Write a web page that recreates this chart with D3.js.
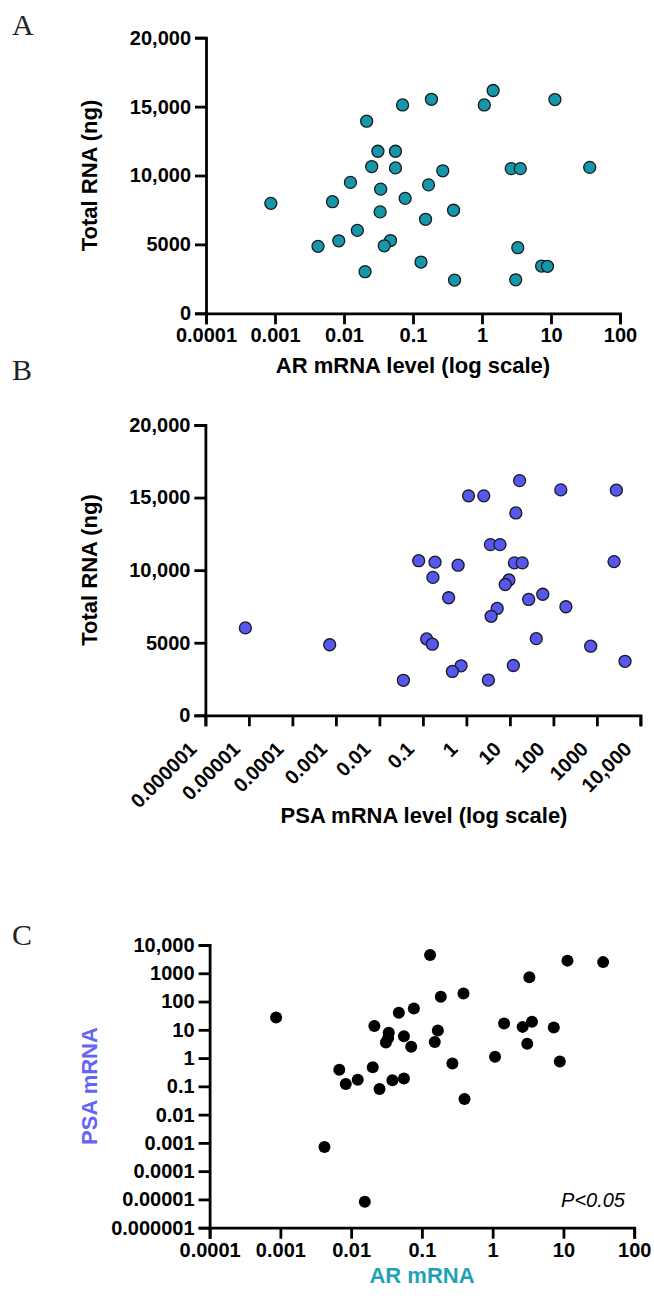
<!DOCTYPE html>
<html>
<head>
<meta charset="utf-8">
<script src="https://cdn.jsdelivr.net/npm/d3@7"></script>
<style>
  html, body { margin: 0; padding: 0; background: #fff; }
  svg { display: block; }
  .axis path, .axis line { stroke: #000; stroke-width: 2.8; }
  .axis text { font-family: "Liberation Sans", Arial, sans-serif; font-weight: bold; font-size: 20px; fill: #000; }
  .title { font-family: "Liberation Sans", Arial, sans-serif; font-weight: bold; font-size: 22px; }
  .panel { font-family: "Liberation Serif", "DejaVu Serif", serif; font-size: 30px; fill: #222; }
</style>
</head>
<body>
<script>
// ---- data (one entry per sample) ----
const arLevel  = [1.45, 0.185, 11.4, 0.0706, 1.08, 0.0213, 0.031, 0.0557, 0.0252, 36.4, 0.0557, 2.65, 3.59, 0.27, 0.0124, 0.168, 0.034, 0.077, 0.0068, 0.00087, 0.387, 0.0334, 0.152, 0.0156, 0.0472, 0.0084, 0.0383, 0.0042, 3.3, 0.1305, 7.31, 8.89, 0.0202, 3.08, 0.40];
const psaLevel = [16.7, 148, 2800, 2.51, 1.12, 13.7, 3.57, 5.93, 0.08, 2480, 0.19, 12.7, 19.2, 0.645, 0.17, 9.5, 7.8, 57, 0.39, 27, 194, 5.1, 3.7, 0.0000083, 40.4, 0.122, 0.165, 0.00072, 720, 4430, 12.0, 0.755, 0.476, 3.2, 0.0356];
const totalRNA = [16170, 15530, 15510, 15120, 15120, 13940, 11760, 11760, 10650, 10590, 10550, 10500, 10500, 10340, 9500, 9320, 9010, 8340, 8100, 7980, 7480, 7360, 6820, 6020, 5280, 5260, 4900, 4860, 4760, 3720, 3430, 3410, 3020, 2430, 2410];

// ---- ticks ----
const rnaTicks = [0, 5000, 10000, 15000, 20000];
const rnaTickLabels = ["0", "5000", "10,000", "15,000", "20,000"];
const arTicks = [0.0001, 0.001, 0.01, 0.1, 1, 10, 100];
const arTickLabels = ["0.0001", "0.001", "0.01", "0.1", "1", "10", "100"];
const psaTicks = [1e-6, 1e-5, 1e-4, 1e-3, 0.01, 0.1, 1, 10, 100, 1000, 10000];
const psaTickLabels = ["0.000001", "0.00001", "0.0001", "0.001", "0.01", "0.1", "1", "10", "100", "1000", "10,000"];

const samples = arLevel.map((a, i) => ({ ar: a, psa: psaLevel[i], rna: totalRNA[i] }));

const W = 654, H = 1300;
const svg = d3.select("body").append("svg").attr("width", W).attr("height", H);

function fmt(ticks, labels) { return d => labels[ticks.indexOf(d)]; }

function yAxisRNA(g, y) {
  g.attr("class", "axis")
    .call(d3.axisLeft(y).tickValues(rnaTicks).tickFormat(fmt(rnaTicks, rnaTickLabels)).tickSizeOuter(0).tickSize(11).tickPadding(4));
}

// ===== Panel A =====
{
  const x = d3.scaleLog().domain([0.0001, 100]).range([206, 620]);
  const y = d3.scaleLinear().domain([0, 20000]).range([313.3, 37.7]);
  svg.append("g").attr("transform", "translate(0,313.3)").attr("class", "axis")
    .call(d3.axisBottom(x).tickValues(arTicks).tickFormat(fmt(arTicks, arTickLabels)).tickSizeOuter(0).tickSize(11).tickPadding(4));
  svg.append("g").attr("transform", "translate(206,0)").call(yAxisRNA, y);
  svg.append("g").selectAll("circle").data(samples).join("circle")
    .attr("cx", d => x(d.ar)).attr("cy", d => y(d.rna)).attr("r", 6)
    .attr("fill", "#1497ab").attr("stroke", "#1a1a1a").attr("stroke-width", 1.3);
  svg.append("text").attr("class", "title").attr("text-anchor", "middle")
    .attr("transform", "translate(97,175.5) rotate(-90)").text("Total RNA (ng)");
  svg.append("text").attr("class", "title").attr("text-anchor", "middle")
    .attr("x", 413).attr("y", 373).text("AR mRNA level (log scale)");
  svg.append("text").attr("class", "panel").attr("x", 12).attr("y", 35).text("A");
}

// ===== Panel B =====
{
  const x = d3.scaleLog().domain([1e-6, 1e4]).range([205.4, 640.4]);
  const y = d3.scaleLinear().domain([0, 20000]).range([715.3, 425]);
  const gx = svg.append("g").attr("transform", "translate(0,715.3)").attr("class", "axis")
    .call(d3.axisBottom(x).tickValues(psaTicks).tickFormat(fmt(psaTicks, psaTickLabels)).tickSizeOuter(0).tickSize(11).tickPadding(4));
  gx.selectAll("text").attr("text-anchor", "end").attr("x", 0).attr("y", 0).attr("dy", 0)
    .attr("transform", "translate(-8,35) rotate(-45)");
  svg.append("g").attr("transform", "translate(205.4,0)").call(yAxisRNA, y);
  svg.append("g").selectAll("circle").data(samples).join("circle")
    .attr("cx", d => x(d.psa)).attr("cy", d => y(d.rna)).attr("r", 6)
    .attr("fill", "#5656f0").attr("stroke", "#1a1a1a").attr("stroke-width", 1.3);
  svg.append("text").attr("class", "title").attr("text-anchor", "middle")
    .attr("transform", "translate(97,570) rotate(-90)").text("Total RNA (ng)");
  svg.append("text").attr("class", "title").attr("text-anchor", "middle")
    .attr("x", 424).attr("y", 823).text("PSA mRNA level (log scale)");
  svg.append("text").attr("class", "panel").attr("x", 12).attr("y", 380).text("B");
}

// ===== Panel C =====
{
  const x = d3.scaleLog().domain([0.0001, 100]).range([209.6, 634.2]);
  const y = d3.scaleLog().domain([1e-6, 1e4]).range([1227.7, 945]);
  svg.append("g").attr("transform", "translate(0,1227.7)").attr("class", "axis")
    .call(d3.axisBottom(x).tickValues(arTicks).tickFormat(fmt(arTicks, arTickLabels)).tickSizeOuter(0).tickSize(11).tickPadding(4));
  svg.append("g").attr("transform", "translate(209.6,0)").attr("class", "axis")
    .call(d3.axisLeft(y).tickValues(psaTicks).tickFormat(fmt(psaTicks, psaTickLabels)).tickSizeOuter(0).tickSize(11).tickPadding(4));
  svg.append("g").selectAll("circle").data(samples).join("circle")
    .attr("cx", d => x(d.ar)).attr("cy", d => y(d.psa)).attr("r", 6)
    .attr("fill", "#000");
  svg.append("text").attr("class", "title").attr("text-anchor", "middle").attr("fill", "#6464f5")
    .attr("transform", "translate(97,1086) rotate(-90)").text("PSA mRNA");
  svg.append("text").attr("class", "title").attr("text-anchor", "middle").attr("fill", "#1fa2b8")
    .attr("x", 422).attr("y", 1283).text("AR mRNA");
  svg.append("text").attr("x", 625).attr("y", 1207).attr("text-anchor", "end")
    .style("font-family", "Liberation Sans, Arial, sans-serif").style("font-style", "italic").style("font-size", "20px")
    .text("P<0.05");
  svg.append("text").attr("class", "panel").attr("x", 12).attr("y", 945).text("C");
}
</script>
</body>
</html>
